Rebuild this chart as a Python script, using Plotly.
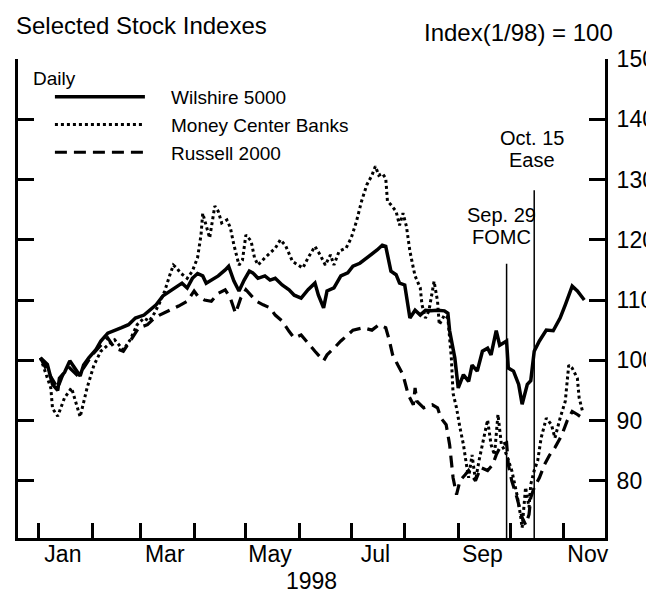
import plotly.graph_objects as go

# ---------------- data ----------------
wil_dates = ["1998-01-02","1998-01-06","1998-01-09","1998-01-12","1998-01-13","1998-01-16","1998-01-19","1998-01-22","1998-01-25","1998-01-27","1998-01-30",
             "1998-02-03","1998-02-06","1998-02-10","1998-02-14","1998-02-18","1998-02-22","1998-02-26",
             "1998-03-03","1998-03-06","1998-03-10","1998-03-14","1998-03-18","1998-03-22","1998-03-25","1998-03-28","1998-03-31",
             "1998-04-03","1998-04-06","1998-04-08","1998-04-11","1998-04-15","1998-04-19","1998-04-21","1998-04-24","1998-04-27","1998-04-30",
             "1998-05-03","1998-05-05","1998-05-08","1998-05-12","1998-05-15","1998-05-18","1998-05-22","1998-05-26","1998-05-29",
             "1998-06-02","1998-06-06","1998-06-10","1998-06-12","1998-06-15","1998-06-17","1998-06-21","1998-06-25","1998-06-29",
             "1998-07-02","1998-07-06","1998-07-10","1998-07-13","1998-07-16","1998-07-19","1998-07-21","1998-07-24","1998-07-27","1998-07-29",
             "1998-08-01","1998-08-04","1998-08-07","1998-08-10","1998-08-13","1998-08-16","1998-08-20","1998-08-24","1998-08-26","1998-08-27","1998-08-30",
             "1998-09-01","1998-09-04","1998-09-07","1998-09-09","1998-09-12","1998-09-15","1998-09-18","1998-09-20","1998-09-23","1998-09-25","1998-09-29","1998-09-30",
             "1998-10-03","1998-10-06","1998-10-08","1998-10-11","1998-10-13","1998-10-15","1998-10-18","1998-10-22","1998-10-26","1998-10-30",
             "1998-11-02","1998-11-06","1998-11-09","1998-11-13"]
wil_vals = [100.4, 99.3, 96.0, 95.0, 97.0, 98.0, 99.9, 98.7, 97.4, 99.2, 100.4,
            101.7, 103.2, 104.5, 104.9, 105.4, 105.9, 107.0,
            107.5, 108.2, 109.2, 110.7, 111.5, 112.3, 112.8, 112.0, 113.6,
            114.4, 114.0, 112.8, 113.3, 114.0, 115.0, 115.6, 113.2, 111.5, 113.3,
            114.8, 114.5, 113.6, 114.0, 113.3, 113.6, 112.5, 111.7, 110.8,
            110.3, 111.7, 112.8, 110.8, 108.7, 111.5, 112.0, 114.0, 114.5,
            115.6, 116.1, 117.0, 117.5, 118.3, 119.1, 118.9, 114.8, 114.2, 112.8,
            112.5, 107.0, 108.3, 107.5, 108.3, 108.2, 108.3, 108.2, 107.8, 104.9, 100.4,
            95.4, 97.6, 96.5, 99.2, 98.2, 101.5, 102.0, 100.9, 104.9, 102.5, 103.2, 98.7,
            98.2, 96.0, 92.7, 96.0, 96.6, 101.5, 103.2, 105.0, 104.9, 107.0,
            109.2, 112.3, 111.5, 110.0]

mcb_dates = ["1998-01-02","1998-01-08","1998-01-09","1998-01-12","1998-01-16","1998-01-20","1998-01-25","1998-01-29",
             "1998-02-02","1998-02-06","1998-02-10","1998-02-14","1998-02-19","1998-02-23","1998-02-27",
             "1998-03-03","1998-03-06","1998-03-09","1998-03-12","1998-03-15","1998-03-18","1998-03-20","1998-03-22","1998-03-24","1998-03-28","1998-03-31",
             "1998-04-03","1998-04-05","1998-04-06","1998-04-08","1998-04-10","1998-04-13","1998-04-15","1998-04-17","1998-04-20","1998-04-22","1998-04-24","1998-04-27","1998-04-29",
             "1998-05-01","1998-05-04","1998-05-06","1998-05-08","1998-05-12","1998-05-15","1998-05-18","1998-05-21","1998-05-24","1998-05-28",
             "1998-06-01","1998-06-03","1998-06-06","1998-06-10","1998-06-13","1998-06-16","1998-06-19","1998-06-21","1998-06-24","1998-06-28",
             "1998-07-01","1998-07-04","1998-07-07","1998-07-10","1998-07-13","1998-07-15","1998-07-17","1998-07-19","1998-07-21","1998-07-22","1998-07-24","1998-07-27","1998-07-29","1998-07-31",
             "1998-08-02","1998-08-04","1998-08-06","1998-08-07","1998-08-10","1998-08-11","1998-08-13","1998-08-15","1998-08-18","1998-08-20","1998-08-21","1998-08-24","1998-08-26","1998-08-28","1998-08-29","1998-08-31",
             "1998-09-02","1998-09-04","1998-09-06","1998-09-07","1998-09-09","1998-09-11","1998-09-13","1998-09-16","1998-09-18","1998-09-20","1998-09-22","1998-09-24","1998-09-26","1998-09-28","1998-09-29",
             "1998-10-02","1998-10-03","1998-10-05","1998-10-07","1998-10-08","1998-10-10","1998-10-12","1998-10-13","1998-10-15","1998-10-17","1998-10-19","1998-10-22","1998-10-25","1998-10-27","1998-10-30",
             "1998-11-02","1998-11-04","1998-11-06","1998-11-09","1998-11-10","1998-11-12"]
mcb_vals = [100.4, 95.4, 92.0, 90.7, 93.8, 95.4, 90.6, 95.4,
            99.2, 101.5, 102.5, 103.4, 101.7, 103.4, 105.9,
            107.0, 106.5, 107.8, 109.5, 111.5, 114.2, 115.8, 115.3, 114.5, 113.6, 114.8,
            117.0, 120.8, 124.4, 122.4, 120.3, 125.6, 124.7, 122.8, 123.3, 122.0, 119.2, 115.8, 116.6,
            120.8, 119.8, 117.0, 115.8, 117.0, 117.8, 118.6, 120.0, 119.0, 116.4,
            115.6, 115.3, 117.0, 118.9, 117.5, 115.8, 117.5, 115.8, 118.1, 118.6,
            120.3, 123.0, 126.4, 129.1, 130.7, 132.2, 130.7, 131.0, 130.2, 126.4, 125.8, 124.7, 122.4, 124.4,
            122.2, 118.1, 115.3, 114.0, 112.0, 109.2, 107.0, 108.2, 113.1, 109.8, 105.9, 107.5, 107.0, 100.4, 94.5, 92.1,
            88.8, 86.0, 82.2, 80.5, 84.3, 80.0, 83.3, 87.1, 90.1, 86.0, 84.3, 91.0, 86.0, 85.0, 84.3,
            81.7, 80.5, 77.7, 74.4, 72.2, 78.9, 75.6, 79.4, 81.7, 83.3, 87.1, 90.4, 89.3, 87.1, 90.4,
            93.2, 99.2, 98.7, 97.0, 93.8, 91.5]

rus_dates = ["1998-01-02","1998-01-06","1998-01-12","1998-01-15","1998-01-19","1998-01-23","1998-01-27",
             "1998-02-01","1998-02-06","1998-02-10","1998-02-14","1998-02-19","1998-02-23","1998-02-28",
             "1998-03-05","1998-03-09","1998-03-12","1998-03-18","1998-03-23","1998-03-28",
             "1998-04-01","1998-04-03","1998-04-07","1998-04-11","1998-04-15","1998-04-19","1998-04-22","1998-04-25","1998-04-28",
             "1998-05-01","1998-05-04","1998-05-07","1998-05-11","1998-05-15","1998-05-18","1998-05-22","1998-05-26","1998-05-29",
             "1998-06-02","1998-06-06","1998-06-10","1998-06-15","1998-06-17","1998-06-21","1998-06-25","1998-06-29",
             "1998-07-02","1998-07-08","1998-07-13","1998-07-17","1998-07-21","1998-07-23","1998-07-25","1998-07-28","1998-07-31",
             "1998-08-02","1998-08-03","1998-08-06","1998-08-07","1998-08-08","1998-08-12","1998-08-17","1998-08-20","1998-08-22","1998-08-25","1998-08-27","1998-08-28","1998-08-29","1998-08-31",
             "1998-09-02","1998-09-05","1998-09-07","1998-09-11","1998-09-14","1998-09-18","1998-09-21","1998-09-23","1998-09-26","1998-09-29","1998-09-30",
             "1998-10-02","1998-10-05","1998-10-08","1998-10-10","1998-10-12","1998-10-13","1998-10-15","1998-10-18","1998-10-21","1998-10-24","1998-10-27","1998-10-31",
             "1998-11-03","1998-11-06","1998-11-09","1998-11-12"]
rus_vals = [100.4, 98.2, 95.4, 97.6, 98.7, 97.6, 98.7,
            100.9, 102.5, 103.7, 102.0, 101.5, 103.2, 105.4,
            105.9, 107.0, 107.5, 108.3, 109.0, 109.8,
            111.5, 110.7, 110.0, 109.8, 111.1, 111.7, 110.3, 107.8, 110.3,
            111.7, 110.8, 109.8, 109.2, 108.7, 107.5, 106.5, 104.8, 103.7,
            104.2, 102.8, 101.5, 99.9, 100.9, 102.0, 103.2, 104.2,
            105.0, 105.4, 105.0, 105.9, 105.4, 103.4, 100.9, 99.2, 97.6,
            95.4, 94.3, 92.6, 95.4, 93.2, 92.1, 92.6, 92.1, 90.4, 89.3, 86.0, 83.3, 80.5, 77.7,
            80.0, 81.0, 81.7, 80.0, 82.2, 81.7, 82.7, 84.3, 86.0, 86.3, 82.7,
            80.0, 77.2, 73.9, 72.7, 74.4, 77.2, 78.9, 80.5, 82.7, 84.3, 85.5, 87.6,
            89.9, 91.5, 91.0, 90.4]

series_names = ["Wilshire 5000", "Money Center Banks", "Russell 2000"]

month_ticks = ["1998-01-01","1998-02-01","1998-03-01","1998-04-01","1998-05-01","1998-06-01",
               "1998-07-01","1998-08-01","1998-09-01","1998-10-01","1998-11-01"]
month_label_dates = ["1998-01-15","1998-03-15","1998-05-15","1998-07-15","1998-09-15","1998-11-15"]
month_labels = ["Jan","Mar","May","Jul","Sep","Nov"]
y_ticks = [80, 90, 100, 110, 120, 130, 140, 150]
x_range = ["1997-12-20", "1998-11-25"]
y_range = [70.5, 150]

event_dates = ["1998-09-29", "1998-10-15"]
event_tops = [116.0, 128.2]
event_label_dates = ["1998-09-26", "1998-10-14"]
event_line1 = ["Sep. 29", "Oct. 15"]
event_line1_y = [124.1, 136.9]
event_line2 = ["FOMC", "Ease"]
event_line2_y = [120.5, 133.2]

FONT = "Liberation Sans, Arial, Helvetica, sans-serif"
PAD = "\u00a0" * 4

fig = go.Figure()
fig.add_trace(go.Scatter(x=wil_dates, y=wil_vals, mode="lines", name=PAD + series_names[0],
                         line=dict(color="black", width=3.5)))
fig.add_trace(go.Scatter(x=mcb_dates, y=mcb_vals, mode="lines", name=PAD + series_names[1],
                         line=dict(color="black", width=3, dash="dot")))
fig.add_trace(go.Scatter(x=rus_dates, y=rus_vals, mode="lines", name=PAD + series_names[2],
                         line=dict(color="black", width=3.2, dash="12px,7px")))
# carrier for the label axis
fig.add_trace(go.Scatter(x=[x_range[0]], y=[None], xaxis="x2", showlegend=False,
                         hoverinfo="skip", mode="lines"))

for d, top in zip(event_dates, event_tops):
    fig.add_shape(type="line", xref="x", yref="y", x0=d, x1=d, y0=y_range[0], y1=top,
                  line=dict(color="black", width=1.5))
for d, t1, y1, t2, y2 in zip(event_label_dates, event_line1, event_line1_y, event_line2, event_line2_y):
    fig.add_annotation(x=d, y=y1, xref="x", yref="y", text=t1, showarrow=False,
                       font=dict(size=20, color="black", family=FONT))
    fig.add_annotation(x=d, y=y2, xref="x", yref="y", text=t2, showarrow=False,
                       font=dict(size=20, color="black", family=FONT))

fig.add_annotation(xref="paper", yref="paper", x=(425 - 7) / 607, y=(530 - 25) / 479,
                   xanchor="left", yanchor="middle", text="Index(1/98) = 100", showarrow=False,
                   font=dict(size=24, color="black", family=FONT))
fig.add_annotation(xref="paper", yref="paper", x=(20 - 7) / 607, y=(530 - 70) / 479,
                   xanchor="left", yanchor="middle", text="Daily", showarrow=False,
                   font=dict(size=19, color="black", family=FONT))

fig.update_layout(
    width=654, height=597,
    margin=dict(l=7, r=40, t=51, b=67),
    paper_bgcolor="white", plot_bgcolor="white",
    font=dict(family=FONT, color="black"),
    title=dict(text="Selected Stock Indexes", x=8 / 654, xanchor="left", xref="container",
               y=1 - 18 / 597, yref="container", yanchor="middle",
               font=dict(size=24, color="black", family=FONT)),
    showlegend=True,
    legend=dict(x=(40 - 7) / 607, y=(530 - 70) / 479, xanchor="left", yanchor="top",
                bgcolor="rgba(0,0,0,0)", font=dict(size=19, color="black"),
                itemwidth=90, tracegroupgap=0),
    xaxis=dict(type="date", range=x_range, tickvals=month_ticks, showticklabels=False,
               ticks="inside", ticklen=15, tickwidth=3, tickcolor="black",
               showline=True, linewidth=3, linecolor="black", showgrid=False, zeroline=False),
    xaxis2=dict(type="date", overlaying="x", matches="x", side="bottom", anchor="y",
                tickvals=month_label_dates, ticktext=month_labels, ticks="",
                tickfont=dict(size=23, color="black"), showline=False, showgrid=False,
                zeroline=False,
                title=dict(text="1998", font=dict(size=23, color="black"), standoff=6)),
    yaxis=dict(range=y_range, tickvals=y_ticks, side="right", ticks="inside", ticklen=16,
               tickwidth=3, tickcolor="black", showline=True, linewidth=3, linecolor="black",
               mirror="ticks", showgrid=False, zeroline=False,
               tickfont=dict(size=23, color="black"), ticklabelstandoff=4),
)

fig.write_html("out.html")
